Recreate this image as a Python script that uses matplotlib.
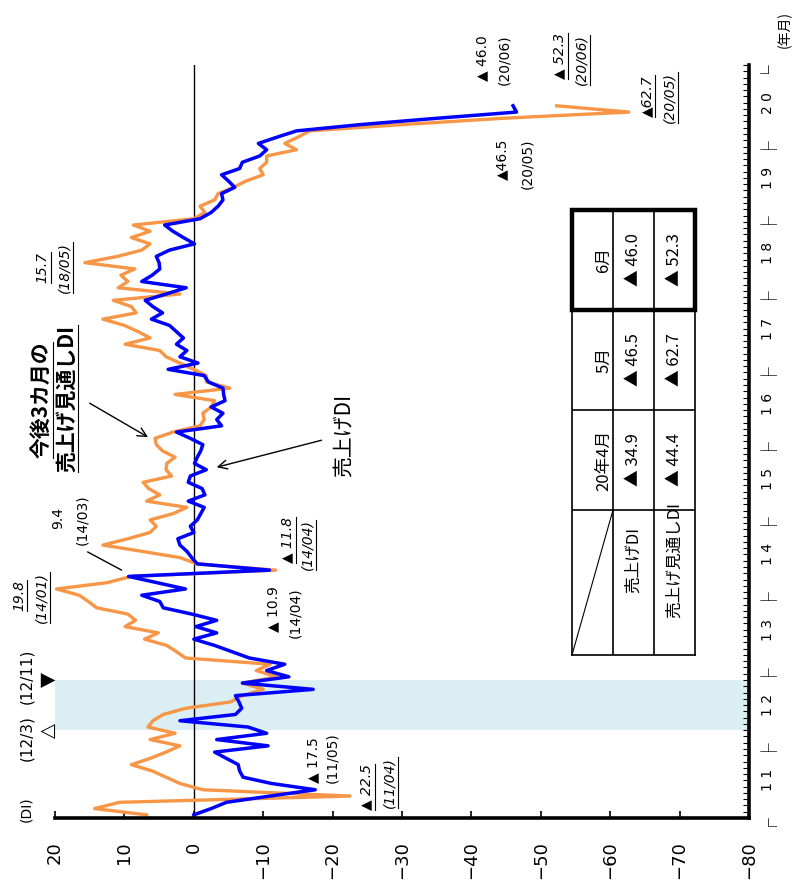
import matplotlib

matplotlib.use("Agg")
import matplotlib.pyplot as plt  # noqa: E402
import matplotlib.transforms as mtransforms  # noqa: E402
from matplotlib.lines import Line2D  # noqa: E402
from matplotlib.patches import Rectangle  # noqa: E402
import numpy as np  # noqa: E402

plt.rcParams["font.family"] = ["Noto Sans CJK JP", "DejaVu Sans"]

# monthly DI, 2011/01 .. 2020/06
sales_di = [
    0.0, -2.5, -4.7, -11.0, -17.5, -11.2, -7.1, -6.6, -6.4, -4.7,
    -3.0, -10.7, -3.3, -10.5, -7.8, 2.0, -6.0, -6.9, -6.5, -6.0,
    -17.2, -7.0, -13.7, -10.5, -13.1, -8.0, -5.5, -3.0, 0.0, -3.3,
    -0.3, -3.3, 0.3, 4.4, 4.9, 7.5, 1.2, 5.3, 9.4, -10.9,
    -0.5, 0.3, 1.0, 2.0, 2.3, 0.0, 0.5, -0.5, -1.0, -1.5,
    0.8, -1.6, -1.2, 0.8, 0.5, -1.8, -0.1, -0.5, -1.0, -1.3,
    0.5, 2.5, -4.0, -3.3, -4.2, -2.5, -4.5, -4.3, -4.2, -2.1,
    -1.5, 3.7, -0.6, 2.0, 1.0, 2.5, 1.5, 2.5, 3.5, 6.1,
    4.5, 5.9, 7.0, 4.0, 1.1, 7.5, 6.0, 4.9, 5.0, 5.4,
    3.5, -0.1, 1.5, 3.0, 4.2, -0.9, -2.5, -3.5, -4.2, -4.0,
    -5.9, -5.0, -4.0, -6.6, -7.0, -9.5, -10.5, -9.3, -12.0, -14.8,
    -24.0, -34.9, -46.5, -46.0,
]
outlook_di = [
    6.8, 14.3, 10.7, -22.5, -1.3, 2.0, 4.0, 6.0, 9.0, 6.3,
    4.0, 2.0, 6.3, 2.7, 6.6, 5.9, 4.4, 1.1, -5.3, -7.0,
    -10.0, -7.0, -12.0, -9.0, -11.0, 1.2, 2.5, 3.9, 7.1, 5.1,
    9.9, 8.4, 9.5, 14.0, 15.2, 16.5, 19.8, 12.5, 9.0, -11.8,
    -0.5, 2.0, 7.5, 13.1, 9.5, 6.3, 5.4, 6.3, 3.0, 1.0,
    6.8, 4.9, 6.5, 7.3, 3.2, 4.0, 3.9, 2.7, 4.5, 5.4,
    5.6, 3.0, -0.9, -1.5, -1.3, -2.5, -3.0, 2.7, -5.2, -1.8,
    -1.8, 0.0, 2.0, 4.0, 4.9, 9.9, 6.3, 8.0, 10.0, 13.1,
    8.3, 9.0, 11.6, 2.0, 10.9, 9.5, 10.5, 8.5, 15.7, 11.0,
    7.5, 6.3, 9.0, 6.3, 8.7, 0.0, -1.6, -0.9, -3.0, -3.5,
    -5.7, -7.5, -10.0, -9.5, -10.5, -10.5, -14.8, -13.1, -15.0, -16.7,
    -30.0, -44.4, -62.7, -52.3,
]
first_year = 11
n_years = 10
di_ticks = list(range(20, -81, -10))

# business-cycle turning points (month index from 2011/01)
turn_idx = [14, 22]
turn_labels = ["(12/3)", "(12/11)"]
turn_marks = ["△", "▼"]

table_cols = ["20年4月", "5月", "6月"]
table_rows = ["売上げDI", "売上げ見通しDI"]
table_sales = sales_di[-3:]
table_outlook = outlook_di[-3:]

ORANGE = "#f79646"
BLUE = "#0000ff"
SHADE = "#daeef3"
NUM_FONT = "DejaVu Sans"

months = np.arange(len(sales_di))
series = {"sales": sales_di, "outlook": outlook_di}


def month_label(i):
    return f"({first_year + i // 12:02d}/{i % 12 + 1:02d})"


def tri(v, spaced=True):
    if v < 0:
        return ("▲ " if spaced else "▲") + f"{abs(v):.1f}"
    return f"{v:.1f}"


fig = plt.figure(figsize=(7.98, 8.83), dpi=100)
ax = fig.add_axes([55 / 798, 1 - 818 / 883, 694 / 798, 753 / 883])
ax.set_xlim(20, -80)
ax.set_ylim(-0.5, 119.5)

ax.axhspan(turn_idx[0] - 0.5, turn_idx[1] - 0.5, color=SHADE, lw=0, zorder=0)
ax.axvline(0, color="black", lw=1.0, zorder=1)
ax.plot(outlook_di, months, color=ORANGE, lw=2.4, zorder=2)
ax.plot(sales_di, months, color=BLUE, lw=2.5, zorder=3)

for s in ("left", "top"):
    ax.spines[s].set_visible(False)
for s in ("bottom", "right"):
    ax.spines[s].set_linewidth(2.6)
    ax.spines[s].set_zorder(5)

ax.set_xticks(di_ticks)
ax.set_xticklabels([str(v).replace("-", "\u2212") for v in di_ticks])
ax.tick_params(axis="x", direction="in", length=5, width=1.2, pad=17,
               labelsize=13, labelrotation=90)
for lab in ax.get_xticklabels():
    lab.set_family("DejaVu Sans")

ax.yaxis.tick_right()
ax.set_yticks(np.arange(-0.5, 120, 1))
ax.set_yticklabels([])
ax.tick_params(axis="y", direction="in", length=4, width=0.8)

# year labels along the time axis, with a corner mark at every year boundary
yt = mtransforms.blended_transform_factory(ax.transAxes, ax.transData)
for k in range(n_years):
    yr = first_year + k
    ax.text(1.027, 12 * k + 5.5, " ".join(f"{yr:02d}"), transform=yt,
            rotation=90, ha="center", va="center", fontsize=10,
            family="DejaVu Sans")
for k in range(n_years + 1):
    glyph = "┌" if k == 0 else ("└" if k == n_years else "├")
    ax.text(1.0215, 12 * k - 0.5, glyph, transform=yt, rotation=90,
            ha="center", va="center", fontsize=12, family="Noto Sans CJK JP")
fig.text(785 / 798, 1 - 30 / 883, "(年月)", rotation=90, ha="center",
         va="center", fontsize=10)
ax.text(24.1, 0.9, "(DI)", rotation=90, ha="center", va="center",
        fontsize=10, family=NUM_FONT)

for idx, lab, mark, lab_m in zip(turn_idx, turn_labels, turn_marks, [12.3, 22.0]):
    ax.text(24.1, lab_m, lab, rotation=90, ha="center", va="center",
            fontsize=11, family=NUM_FONT)
    ax.text(21.0, idx - 0.5, mark, rotation=90, ha="center", va="center",
            fontsize=14, family="DejaVu Sans")

# value callouts: series, month index, number position, date position,
# underlined (outlook series), space after the triangle
callouts = [
    ("outlook", 3, (-24.9, 4.4), (-28.2, 5.2), True, True),
    ("sales", 4, (-17.2, 8.7), (-20.0, 9.1), False, True),
    ("outlook", 36, (25.2, 34.9), (21.9, 34.6), True, True),
    ("sales", 38, (19.6, 47.3), (16.1, 47.0), False, True),
    ("sales", 39, (-11.4, 32.8), (-14.6, 32.2), False, True),
    ("outlook", 39, (-13.5, 43.8), (-16.4, 43.0), True, True),
    ("outlook", 88, (21.8, 87.2), (18.6, 87.2), True, True),
    ("sales", 113, (-41.5, 120.6), (-44.8, 120.3), False, True),
    ("outlook", 113, (-52.7, 120.9), (-55.9, 120.3), True, True),
    ("outlook", 112, (-65.3, 114.6), (-68.6, 114.3), True, False),
    ("sales", 112, (-44.5, 104.4), (-48.0, 103.8), False, False),
]
underlined = []
for name, i, num_at, date_at, ul, spaced in callouts:
    style = "italic" if ul else "normal"
    t1 = ax.text(*num_at, tri(series[name][i], spaced), rotation=90,
                 ha="center", va="center", fontsize=10, family=NUM_FONT,
                 style=style)
    t2 = ax.text(*date_at, month_label(i), rotation=90, ha="center",
                 va="center", fontsize=10, family=NUM_FONT, style=style)
    if ul:
        underlined += [t1, t2]

t = ax.text(22.0, 66.1, "今後3カ月の", rotation=90, ha="center", va="center",
            fontsize=15, fontweight="bold")
underlined.append(t)
t = ax.text(18.4, 66.4, "売上げ見通しDI", rotation=90, ha="center",
            va="center", fontsize=15, fontweight="bold")
underlined.append(t)
ax.annotate("", xy=(6.6, 60.2), xytext=(15.0, 65.6),
            arrowprops=dict(arrowstyle="->", color="black", lw=1.0,
                            shrinkA=0, shrinkB=0, mutation_scale=16))
ax.text(-21.8, 60.5, "売上げDI", rotation=90, ha="center", va="center",
        fontsize=15)
ax.annotate("", xy=(-3.3, 55.4), xytext=(-18.4, 59.7),
            arrowprops=dict(arrowstyle="->", color="black", lw=1.0,
                            shrinkA=0, shrinkB=0, mutation_scale=16))
ax.annotate("", xy=(10.4, 39.0), xytext=(15.3, 41.9),
            arrowprops=dict(arrowstyle="-", color="black", lw=1.0,
                            shrinkA=0, shrinkB=0))

# latest-months table
tab = fig.add_axes([572 / 798, 1 - 655 / 883, 123 / 798, 445 / 883])
edges = [0, 1.45, 2.45, 3.45, 4.45]
tab.set_xlim(0, 3)
tab.set_ylim(edges[0], edges[-1])
tab.set_xticks([])
tab.set_yticks([])
for s in tab.spines.values():
    s.set_linewidth(1.2)
for y in edges[1:-1]:
    tab.axhline(y, color="black", lw=1.2)
for x in (1, 2):
    tab.axvline(x, color="black", lw=1.2)
tab.plot([0, 1], [0, edges[1]], color="black", lw=0.8)
tab.add_patch(Rectangle((0, edges[3]), 3, edges[4] - edges[3], fill=False,
                        lw=3.2, clip_on=False, zorder=5))
for j, (col, vs, vo) in enumerate(zip(table_cols, table_sales, table_outlook)):
    yc = (edges[j + 1] + edges[j + 2]) / 2
    tab.text(0.78, yc, col, rotation=90, ha="center", va="center", fontsize=12)
    tab.text(1.5, yc, tri(vs), rotation=90, ha="center", va="center", fontsize=12)
    tab.text(2.5, yc, tri(vo), rotation=90, ha="center", va="center", fontsize=12)
for k, row in enumerate(table_rows):
    tab.text(1.5 + k, 0.95, row, rotation=90, ha="center", va="center",
             fontsize=12)

# rules under the rotated labels sit on their right-hand side
fig.canvas.draw()
renderer = fig.canvas.get_renderer()
inv = fig.transFigure.inverted()
for txt in underlined:
    bb = txt.get_window_extent(renderer)
    (x0, y0), (x1, y1) = inv.transform([(bb.x1 + 1.5, bb.y0), (bb.x1 + 1.5, bb.y1)])
    fig.add_artist(Line2D([x0, x1], [y0, y1], color="black", lw=0.8))

fig.savefig("out.png", dpi=100)
